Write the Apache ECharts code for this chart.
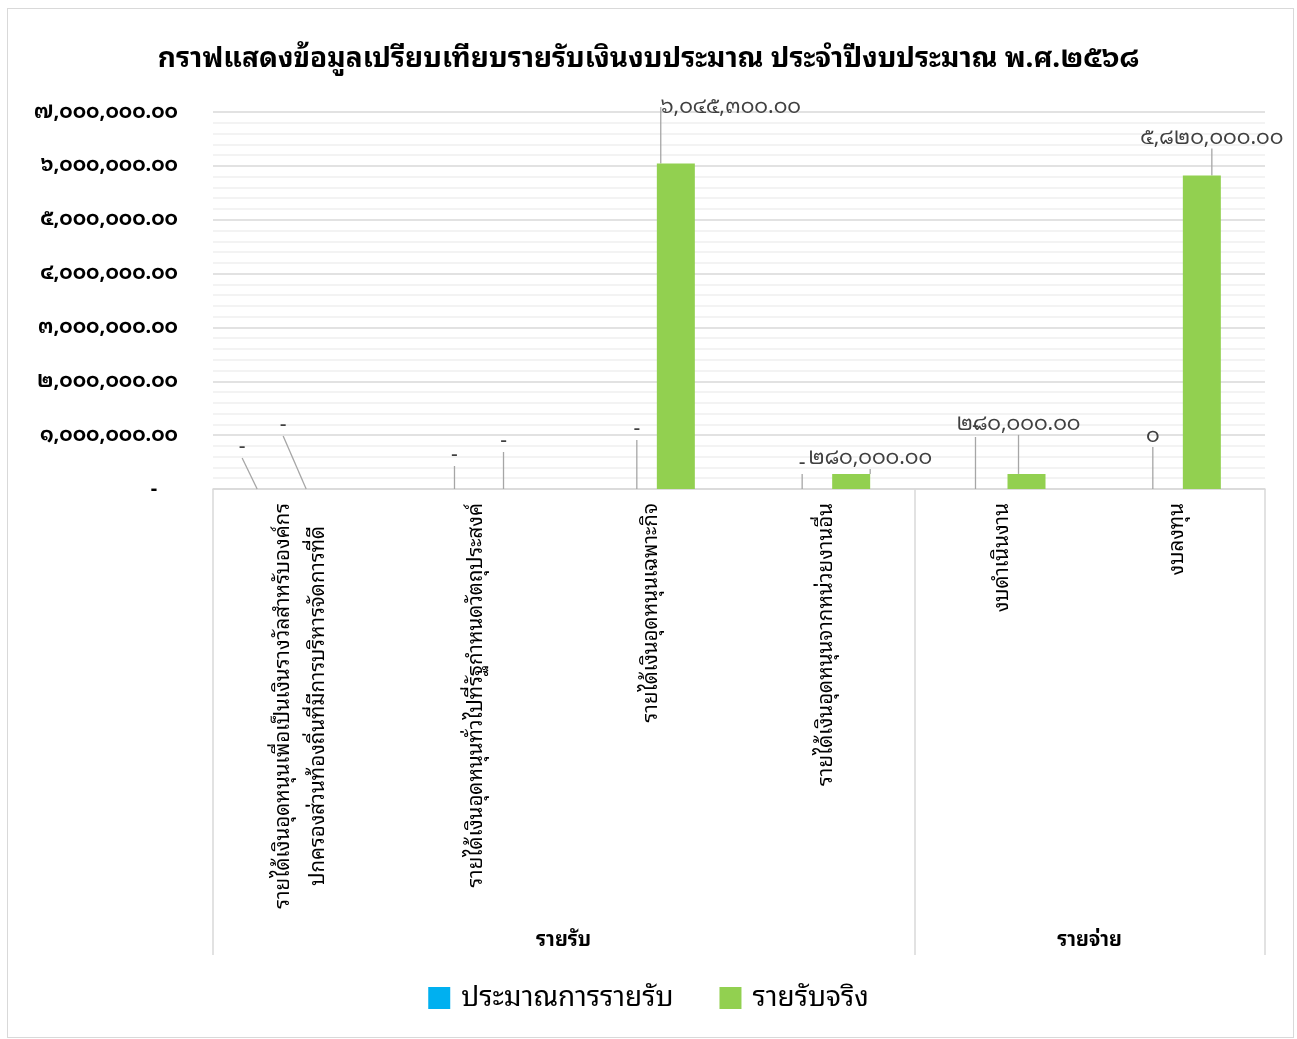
<!DOCTYPE html>
<html>
<head>
<meta charset="utf-8">
<script src="https://cdn.jsdelivr.net/npm/echarts@6/dist/echarts.min.js"></script>
<style>
html,body{margin:0;padding:0;background:#fff;}
#frame{position:absolute;left:7px;top:8px;width:1287px;height:1030px;border:1px solid #d9d9d9;box-sizing:border-box;}
#chart{position:absolute;left:0;top:0;width:1297px;height:1039px;}
</style>
</head>
<body>
<div id="frame"></div>
<div id="chart"></div>
<script>
// ---- data ----
const titleText = 'กราฟแสดงข้อมูลเปรียบเทียบรายรับเงินงบประมาณ ประจำปีงบประมาณ พ.ศ.๒๕๖๘';
const categories = [
  'รายได้เงินอุดหนุนเพื่อเป็นเงินรางวัลสำหรับองค์กร\nปกครองส่วนท้องถิ่นที่มีการบริหารจัดการที่ดี',
  'รายได้เงินอุดหนุนทั่วไปที่รัฐกำหนดวัตถุประสงค์',
  'รายได้เงินอุดหนุนเฉพาะกิจ',
  'รายได้เงินอุดหนุนจากหน่วยงานอื่น',
  'งบดำเนินงาน',
  'งบลงทุน'
];
const groupNames = ['รายรับ', 'รายจ่าย'];
const groupSizes = [4, 2];
const seriesNames = ['ประมาณการรายรับ', 'รายรับจริง'];
const estimate = [0, 0, 0, 0, 0, 0];
const estimateText = ['-', '-', '-', '-', '-', '0'];
const actual = [0, 0, 6045300, 280000, 280000, 5820000];
const yMin = 0, yMax = 7000000, yStep = 1000000;

// ---- label offsets (layout only) ----
const labelShift = [
  [[-34,-26],[3,-18],[10,-44],[0,-10],[-2,-47],[0,-37]],
  [[-42,-48],[3,-32],[55,-41],[19,0],[-8,-34],[10,-22]]
];

const FONT = '"Noto Sans Thai Looped", Tahoma, "Noto Sans Thai", "Noto Sans", sans-serif';
const thaiDigits = s => String(s).replace(/[0-9]/g, d => '๐๑๒๓๔๕๖๗๘๙'[+d]);
const fmt = v => v === 0 ? '-' : thaiDigits(v.toLocaleString('en-US', {minimumFractionDigits:2, maximumFractionDigits:2}));

// group axis built from group sizes
const groupAxis = [];
const groupTicks = new Set([0]);
let start = 0;
const total = groupSizes.reduce((a,b)=>a+b,0);
for (let i = 0; i <= total; i++) groupAxis.push('');
groupSizes.forEach((n, gi) => {
  groupAxis[start + n/2] = groupNames[gi];
  start += n;
  groupTicks.add(start);
});

const chart = echarts.init(document.getElementById('chart'), null, {renderer:'canvas'});
chart.setOption({
  backgroundColor: 'transparent',
  textStyle: {fontFamily: FONT},
  title: {
    text: titleText, left: 'center', top: 40,
    textStyle: {fontFamily: FONT, fontSize: 28, fontWeight: 'bold', color: '#000'}
  },
  legend: {
    bottom: 22, left: 'center', icon: 'rect', itemWidth: 22, itemHeight: 22, itemGap: 46,
    textStyle: {fontFamily: FONT, fontSize: 28, color: '#000', padding:[0,0,0,6]},
    data: seriesNames
  },
  grid: {left: 213, right: 32, top: 112, bottom: 550, containLabel: false},
  xAxis: [
    {
      type: 'category', data: categories, position: 'bottom',
      axisLine: {show: true, lineStyle: {color: '#d9d9d9', width: 1.5}},
      axisTick: {show: false},
      axisLabel: {
        rotate: 90, interval: 0, margin: 14, color: '#000',
        fontFamily: FONT, fontSize: 20.5, lineHeight: 35,
        formatter: v => v.split('\n').map(l => '{c|' + l + '}').join('\n'),
        rich: {c: {align: 'center', fontFamily: FONT, fontSize: 20.5, lineHeight: 35, color: '#000'}}
      }
    },
    {
      type: 'category', data: groupAxis, position: 'bottom', boundaryGap: false,
      axisLine: {show: false},
      axisTick: {show: true, length: 466, interval: (i) => groupTicks.has(i), lineStyle: {color: '#d9d9d9', width: 1.5}},
      axisLabel: {
        interval: (i, v) => v !== '', margin: 441, color: '#000',
        fontFamily: FONT, fontSize: 20, fontWeight: 'bold'
      },
      splitLine: {show: false}
    }
  ],
  yAxis: {
    type: 'value', min: yMin, max: yMax, interval: yStep,
    axisLine: {show: false}, axisTick: {show: false},
    axisLabel: {
      margin: 35, color: '#000', fontFamily: FONT, fontSize: 20, fontWeight: 'bold',
      padding: [6, 0, 0, 0],
      formatter: v => v === 0 ? '-    ' : fmt(v)
    },
    splitLine: {show: true, lineStyle: {color: '#d9d9d9', width: 1.5}},
    minorTick: {show: false, splitNumber: 5},
    minorSplitLine: {show: true, lineStyle: {color: '#efefef', width: 1.5}}
  },
  series: [
    {
      name: seriesNames[0], type: 'bar', data: estimate, barWidth: 38, barGap: '29%',
      itemStyle: {color: '#00B0F0'},
      label: {
        show: true, position: 'top', color: '#404040', fontFamily: FONT, fontSize: 21,
        formatter: p => thaiDigits(estimateText[p.dataIndex])
      },
      labelLine: {show: true, lineStyle: {color: '#a6a6a6', width: 1.3}},
      labelLayout: p => ({dx: labelShift[0][p.dataIndex][0], dy: labelShift[0][p.dataIndex][1]})
    },
    {
      name: seriesNames[1], type: 'bar', data: actual, barWidth: 38, barGap: '29%',
      itemStyle: {color: '#92D050'},
      label: {
        show: true, position: 'top', color: '#404040', fontFamily: FONT, fontSize: 21,
        formatter: p => fmt(p.value)
      },
      labelLine: {show: true, lineStyle: {color: '#a6a6a6', width: 1.3}},
      labelLayout: p => ({dx: labelShift[1][p.dataIndex][0], dy: labelShift[1][p.dataIndex][1]})
    }
  ]
});
</script>
</body>
</html>
